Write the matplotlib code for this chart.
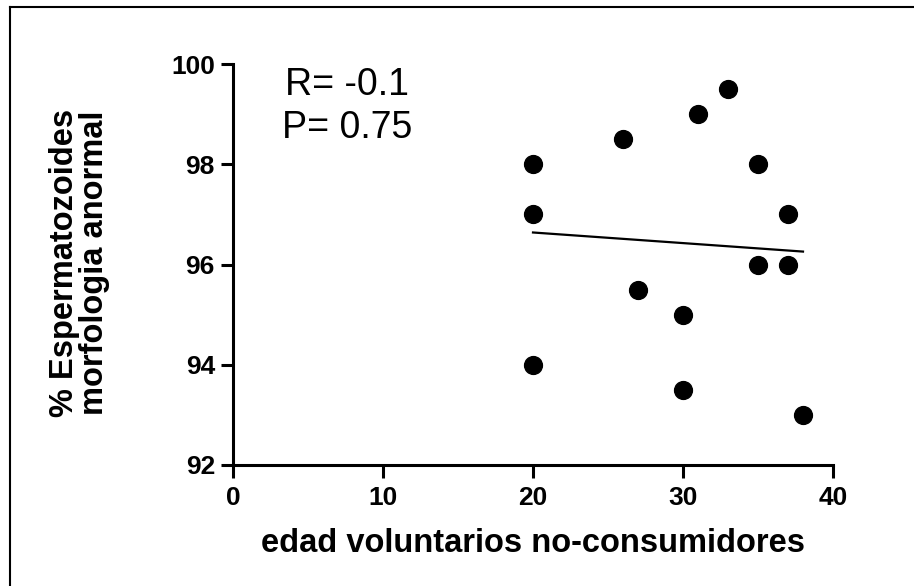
import numpy as np
import matplotlib
matplotlib.use('Agg')
import matplotlib.pyplot as plt
from matplotlib.lines import Line2D

plt.rcParams['font.family'] = ['Liberation Sans', 'DejaVu Sans']

# datos
edad = [20, 20, 20, 26, 27, 30, 30, 31, 33, 35, 35, 37, 37, 38]
morfologia = [98, 97, 94, 98.5, 95.5, 95, 93.5, 99, 99.5, 98, 96, 97, 96, 93]
x_ticks = [0, 10, 20, 30, 40]
y_ticks = [92, 94, 96, 98, 100]
stats_text = "R= -0.1\nP= 0.75"

W, H = 914, 586
fig = plt.figure(figsize=(W / 100, H / 100), dpi=100)
ax = fig.add_axes([233 / W, 1 - 465 / H, 600 / W, 401 / H])

ax.scatter(edad, morfologia, s=165, color='black', zorder=3, clip_on=False)

# recta de regresion
slope, intercept = np.polyfit(edad, morfologia, 1)
xs = np.array([min(edad), max(edad)])
ax.plot(xs, slope * xs + intercept, color='black', lw=1.6)

ax.set_xlim(0, 40)
ax.set_ylim(92, 100)
ax.set_xticks(x_ticks)
ax.set_yticks(y_ticks)

for side in ['top', 'right']:
    ax.spines[side].set_visible(False)
for side in ['left', 'bottom']:
    ax.spines[side].set_linewidth(2.2)

ax.tick_params(axis='both', direction='out', length=9, width=2.2, labelsize=19, pad=4)
ax.tick_params(axis='x', pad=6)
for lab in ax.get_xticklabels() + ax.get_yticklabels():
    lab.set_fontweight('bold')

ax.set_xlabel("edad voluntarios no-consumidores", fontsize=23.5, fontweight='bold', va='top')
ax.xaxis.set_label_coords(0.5, -0.158)
ax.set_ylabel("% Espermatozoides\nmorfologia anormal", fontsize=23.5, fontweight='bold',
              linespacing=0.95)
ax.yaxis.set_label_coords(-0.205, 0.505)

ax.text(7.6, 99.15, stats_text, fontsize=27, ha='center', va='center',
        multialignment='center', linespacing=1.25)

# marco de la captura (solo arriba e izquierda)
fig.add_artist(Line2D([9.5 / W, 1], [1 - 7 / H, 1 - 7 / H], color='black', lw=1.5,
                      transform=fig.transFigure))
fig.add_artist(Line2D([9.5 / W, 9.5 / W], [0, 1 - 7 / H], color='black', lw=1.5,
                      transform=fig.transFigure))

fig.savefig('out.png', dpi=100)
